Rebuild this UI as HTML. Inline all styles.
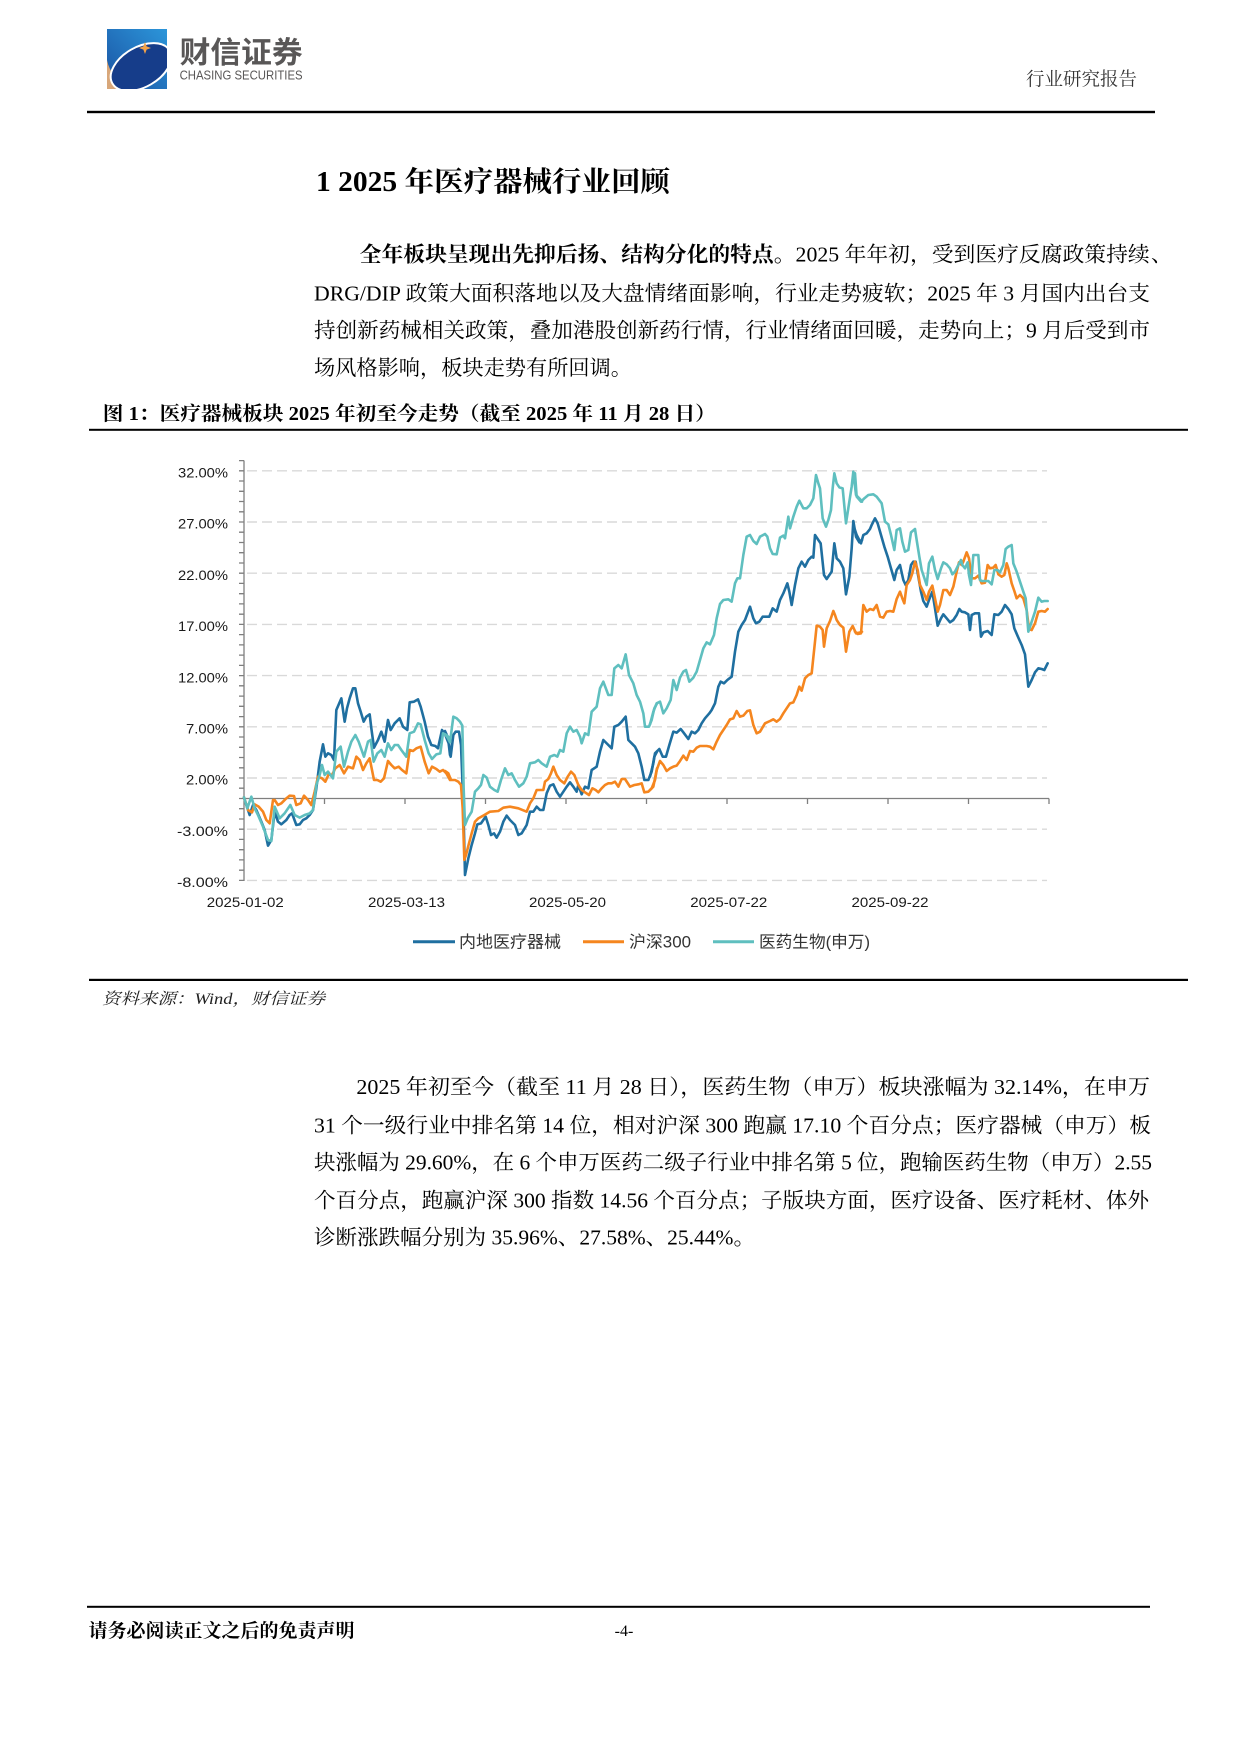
<!DOCTYPE html>
<html>
<head>
<meta charset="utf-8">
<style>
html,body{margin:0;padding:0;background:#fff;}
body{width:1239px;height:1753px;overflow:hidden;}
svg{display:block;}
.serif{font-family:"Liberation Serif","Noto Serif CJK SC",serif;}
.sans{font-family:"Liberation Sans","Noto Sans CJK SC",sans-serif;}
</style>
</head>
<body>
<svg width="1239" height="1753" viewBox="0 0 1239 1753" xmlns="http://www.w3.org/2000/svg">
<defs>
  <linearGradient id="lg" x1="1" y1="0" x2="0" y2="1">
    <stop offset="0" stop-color="#2c96da"/>
    <stop offset="1" stop-color="#1a52a2"/>
  </linearGradient>
  <clipPath id="lc"><rect x="107" y="29" width="60" height="60"/></clipPath>
</defs>

<!-- Logo -->
<rect x="107" y="29" width="60" height="60" fill="url(#lg)"/>
<g clip-path="url(#lc)">
  <path d="M107,60 Q111,80 133,89 L107,89 Z" fill="#d8a77a"/>
  <ellipse cx="141" cy="67" rx="33" ry="20" transform="rotate(-30 141 67)" fill="#163d8a" stroke="#ffffff" stroke-width="2"/>
</g>
<path d="M145,42 L146.6,46.4 L151,48 L146.6,49.6 L145,54 L143.4,49.6 L139,48 L143.4,46.4 Z" fill="#f2a248"/>
<text x="179.6" y="63" class="sans" font-size="30" font-weight="bold" fill="#595757" textLength="123" lengthAdjust="spacingAndGlyphs">财信证券</text>
<text x="179.6" y="79.3" class="sans" font-size="12.5" fill="#595757" textLength="123" lengthAdjust="spacingAndGlyphs">CHASING SECURITIES</text>

<text x="1026" y="85.5" class="serif" font-size="18.5" fill="#333" textLength="111" lengthAdjust="spacingAndGlyphs">行业研究报告</text>
<rect x="87" y="110.8" width="1068" height="2.4" fill="#000"/>

<!-- Title -->
<text x="316" y="191" class="serif" font-size="28" font-weight="bold" fill="#000" textLength="354" lengthAdjust="spacingAndGlyphs">1 2025 年医疗器械行业回顾</text>

<!-- Paragraph 1 -->
<g class="serif" font-size="21" fill="#000">
  <text x="359.7" y="261.5" textLength="790" lengthAdjust="spacingAndGlyphs"><tspan font-weight="bold">全年板块呈现出先抑后扬、结构分化的特点。</tspan>2025 年年初，受到医疗反腐政策持续</text>
  <text x="1151" y="261.5">、</text>
  <text x="314" y="300.7" textLength="836" lengthAdjust="spacingAndGlyphs">DRG/DIP 政策大面积落地以及大盘情绪面影响，行业走势疲软；2025 年 3 月国内出台支</text>
  <text x="314" y="337.5" textLength="836" lengthAdjust="spacingAndGlyphs">持创新药械相关政策，叠加港股创新药行情，行业情绪面回暖，走势向上；9 月后受到市</text>
  <text x="314" y="375" textLength="318" lengthAdjust="spacingAndGlyphs">场风格影响，板块走势有所回调。</text>
</g>

<!-- Caption -->
<text x="102.8" y="420" class="serif" font-size="19.5" font-weight="bold" fill="#000" textLength="613" lengthAdjust="spacingAndGlyphs">图 1：医疗器械板块 2025 年初至今走势（截至 2025 年 11 月 28 日）</text>
<rect x="89" y="428.8" width="1099" height="2" fill="#000"/>

<!-- Chart grid -->
<g stroke="#d9d9d9" stroke-width="1.4" stroke-dasharray="10 5">
  <line x1="247" y1="470.8" x2="1047" y2="470.8"/>
  <line x1="247" y1="522" x2="1047" y2="522"/>
  <line x1="247" y1="573.2" x2="1047" y2="573.2"/>
  <line x1="247" y1="624.4" x2="1047" y2="624.4"/>
  <line x1="247" y1="675.6" x2="1047" y2="675.6"/>
  <line x1="247" y1="726.8" x2="1047" y2="726.8"/>
  <line x1="247" y1="778" x2="1047" y2="778"/>
  <line x1="247" y1="829.2" x2="1047" y2="829.2"/>
  <line x1="247" y1="880.4" x2="1047" y2="880.4"/>
</g>

<!-- Y axis -->
<g stroke="#7f7f7f" stroke-width="1.3" fill="none">
  <line x1="244" y1="460.5" x2="244" y2="881"/>
  <path d="M239,460.6H244M239,470.8H244M239,481H244M239,491.3H244M239,501.5H244M239,511.8H244M239,522H244M239,532.2H244M239,542.5H244M239,552.7H244M239,563H244M239,573.2H244M239,583.4H244M239,593.7H244M239,603.9H244M239,614.2H244M239,624.4H244M239,634.6H244M239,644.9H244M239,655.1H244M239,665.4H244M239,675.6H244M239,685.8H244M239,696.1H244M239,706.3H244M239,716.6H244M239,726.8H244M239,737H244M239,747.3H244M239,757.5H244M239,767.8H244M239,778H244M239,788.2H244M239,798.5H244M239,808.7H244M239,819H244M239,829.2H244M239,839.4H244M239,849.7H244M239,859.9H244M239,870.2H244M239,880.4H244"/>
  <line x1="244" y1="798.5" x2="1049" y2="798.5"/>
  <path d="M324.5,798.5V804M405,798.5V804M485.5,798.5V804M566,798.5V804M646.5,798.5V804M727,798.5V804M807.5,798.5V804M888,798.5V804M968.5,798.5V804M1049,798.5V804"/>
</g>

<!-- Y labels -->
<g class="sans" font-size="13.5" fill="#1a1a1a" text-anchor="end">
  <text x="228" y="477.5" textLength="50" lengthAdjust="spacingAndGlyphs">32.00%</text>
  <text x="228" y="528.7" textLength="50" lengthAdjust="spacingAndGlyphs">27.00%</text>
  <text x="228" y="579.9" textLength="50" lengthAdjust="spacingAndGlyphs">22.00%</text>
  <text x="228" y="631.1" textLength="50" lengthAdjust="spacingAndGlyphs">17.00%</text>
  <text x="228" y="682.3" textLength="50" lengthAdjust="spacingAndGlyphs">12.00%</text>
  <text x="228" y="733.5" textLength="42" lengthAdjust="spacingAndGlyphs">7.00%</text>
  <text x="228" y="784.7" textLength="42" lengthAdjust="spacingAndGlyphs">2.00%</text>
  <text x="228" y="835.9" textLength="51" lengthAdjust="spacingAndGlyphs">-3.00%</text>
  <text x="228" y="887.1" textLength="51" lengthAdjust="spacingAndGlyphs">-8.00%</text>
</g>

<!-- X labels -->
<g class="sans" font-size="14" fill="#1a1a1a">
  <text x="206.8" y="907" textLength="77" lengthAdjust="spacingAndGlyphs">2025-01-02</text>
  <text x="368" y="907" textLength="77" lengthAdjust="spacingAndGlyphs">2025-03-13</text>
  <text x="529" y="907" textLength="77" lengthAdjust="spacingAndGlyphs">2025-05-20</text>
  <text x="690.3" y="907" textLength="77" lengthAdjust="spacingAndGlyphs">2025-07-22</text>
  <text x="851.5" y="907" textLength="77" lengthAdjust="spacingAndGlyphs">2025-09-22</text>
</g>

<!-- Series: blue (bottom) -->
<g fill="none" stroke="#1f6fa0" stroke-width="2.6" stroke-linejoin="round" stroke-linecap="round">
  <polyline vector-effect="non-scaling-stroke" transform="translate(238,455) scale(0.33333)" points="18,1027 25,1050 35,1080 45,1050 55,1065 70,1100 80,1125 90,1172 100,1155 110,1070 120,1100 130,1108 145,1095 155,1080 162,1075 175,1110 185,1108 195,1095 205,1090 215,1080 225,1065 235,1000 245,920 255,868 262,905 270,895 280,900 288,915 295,765 310,730 320,800 327,760 335,730 345,700 352,700 360,745 368,770 377,800 385,785 395,778 400,820 408,878 420,855 430,830 440,860 450,795 458,825 470,805 485,790 495,815 508,825 515,742 528,740 540,733 548,755 560,800 570,845 580,870 592,873 600,880 612,825 622,840 632,865 636,900"/>
  <polyline vector-effect="non-scaling-stroke" transform="translate(445,455) scale(0.33333)" points="0,828 10,850 17,905 25,840 32,830 42,830 48,870 55,1050 60,1260 70,1210 80,1170 90,1135 97,1108 108,1105 122,1085 130,1110 138,1140 147,1135 155,1148 165,1130 175,1100 185,1082 195,1095 210,1110 220,1140 230,1135 245,1110 255,1070 265,1070 275,1055 285,1065 295,1065 305,1015 315,992 325,988 335,1010 345,1025 355,1010 365,995 375,982 385,995 395,1010 400,990 410,1018 420,995 430,1000 440,945 455,935 465,890 475,855 490,870 500,880 508,815 520,810 530,800 542,785 550,855 560,865 570,875 580,895 590,935 598,975 610,975 620,950 628,905 636,890"/>
  <polyline vector-effect="non-scaling-stroke" transform="translate(650,455) scale(0.33333)" points="0,965 10,925 15,895 28,882 38,905 48,905 58,870 70,830 80,833 92,822 100,832 115,852 125,830 135,835 145,825 155,805 165,790 178,775 185,765 195,745 205,695 212,680 222,685 232,675 245,665 255,590 265,530 275,510 285,495 300,455 310,490 318,505 328,500 338,485 350,485 358,485 368,460 380,470 390,435 400,415 412,385 418,410 425,450 435,390 445,340 455,320 465,335 475,315 485,305 490,308 495,240 505,255 512,265 522,360 530,372 545,350 553,265 560,310 570,320 580,340 588,418 598,365 605,280 610,198 618,245 628,262 636,255"/>
  <polyline vector-effect="non-scaling-stroke" transform="translate(855,455) scale(0.33333)" points="0,225 5,240 18,265 25,240 35,235 45,222 50,210 60,190 68,205 78,240 88,275 98,305 108,340 118,375 125,345 135,330 145,375 152,390 160,375 168,330 175,320 182,320 190,365 198,410 205,438 215,455 222,435 232,410 240,460 248,512 258,490 265,478 275,490 285,502 295,495 305,480 313,462 320,470 330,472 340,478 345,525 350,480 360,475 372,475 378,545 385,532 398,528 410,540 418,478 430,480 440,470 450,450 460,462 470,478 478,520 490,548 500,570 510,598 520,695 530,675 540,652 550,640 560,642 568,645 578,625"/>
</g>

<!-- Series: orange (middle) -->
<g fill="none" stroke="#f5861f" stroke-width="2.6" stroke-linejoin="round" stroke-linecap="round">
  <polyline vector-effect="non-scaling-stroke" transform="translate(238,455) scale(0.33333)" points="18,1027 30,1065 42,1072 50,1048 62,1055 75,1070 85,1095 95,1105 105,1035 110,1035 120,1050 130,1045 145,1030 155,1022 168,1023 175,1050 188,1045 198,1022 210,1035 220,1050 230,1010 240,965 252,970 262,980 272,958 282,960 292,940 305,930 318,955 330,935 345,940 355,905 365,915 375,945 385,925 395,910 408,975 418,975 428,980 438,970 450,918 460,930 470,940 482,935 492,945 505,955 515,885 525,888 535,880 548,875 560,920 572,955 582,935 595,942 605,950 615,945 625,955 636,975"/>
  <polyline vector-effect="non-scaling-stroke" transform="translate(445,455) scale(0.33333)" points="0,948 10,955 18,975 30,975 40,980 48,990 53,1060 58,1215 63,1200 72,1165 80,1135 90,1100 100,1090 118,1080 135,1070 160,1068 175,1058 195,1055 220,1060 245,1070 255,1045 265,1030 275,1005 285,1005 295,1005 300,980 310,972 318,955 325,935 335,960 345,975 358,985 368,965 378,950 388,960 400,990 410,1005 420,1012 432,1020 442,1000 452,1005 460,1012 470,1000 480,990 490,985 500,985 510,980 520,995 530,972 540,972 555,995 568,990 580,988 590,985 598,1012 610,1010 620,1000 630,975 636,940"/>
  <polyline vector-effect="non-scaling-stroke" transform="translate(650,455) scale(0.33333)" points="0,1005 10,995 20,945 30,918 40,930 50,948 60,940 70,935 80,932 90,918 100,902 110,915 120,888 130,890 140,878 150,873 160,873 170,873 180,875 190,883 200,860 210,840 220,825 230,810 240,793 250,790 260,768 270,785 280,782 292,768 300,766 310,810 320,835 330,830 345,805 360,798 370,793 380,800 390,792 400,775 410,760 420,745 430,742 440,720 448,695 455,707 465,670 475,660 485,655 495,560 500,512 510,515 518,525 522,575 530,520 540,498 550,468 555,480 560,495 570,510 580,518 588,590 598,530 608,513 618,535 628,533 636,530"/>
  <polyline vector-effect="non-scaling-stroke" transform="translate(855,455) scale(0.33333)" points="0,530 8,537 18,535 25,450 35,470 45,462 55,465 65,450 75,485 85,488 95,470 105,468 115,470 125,432 135,410 142,430 148,445 155,390 165,375 172,355 180,320 188,345 195,390 205,410 215,435 222,410 232,392 240,430 248,470 255,450 265,405 275,405 285,420 295,395 305,350 312,322 320,330 325,320 335,292 342,310 350,370 360,370 370,362 380,385 390,383 398,330 405,340 415,338 422,330 430,358 440,365 448,360 455,325 460,340 470,385 478,408 485,430 495,420 505,430 515,465 522,522 530,525 540,505 550,470 560,468 570,470 578,462"/>
</g>

<!-- Series: teal (top) -->
<g fill="none" stroke="#5fbfbf" stroke-width="2.6" stroke-linejoin="round" stroke-linecap="round">
  <polyline vector-effect="non-scaling-stroke" transform="translate(238,455) scale(0.33333)" points="18,1027 28,1060 40,1025 50,1060 60,1080 75,1115 90,1155 100,1158 110,1055 125,1090 140,1075 157,1050 170,1080 185,1088 200,1080 215,1075 225,1065 235,990 245,960 252,930 260,960 270,950 285,970 295,890 308,875 318,935 330,890 340,860 352,840 362,860 378,905 390,860 398,855 407,920 418,895 430,885 440,905 450,865 460,885 470,870 480,870 490,885 505,905 515,835 528,830 540,805 548,808 560,855 572,895 582,912 595,898 607,895 615,835 625,840 636,850"/>
  <polyline vector-effect="non-scaling-stroke" transform="translate(445,455) scale(0.33333)" points="0,838 8,848 15,862 25,785 35,790 45,800 52,812 56,1000 60,1110 68,1090 80,1070 90,1010 100,1000 108,990 115,960 125,968 135,995 148,1005 158,1010 168,975 180,940 190,960 200,955 210,975 222,995 235,985 245,965 255,925 270,922 280,915 290,925 305,935 315,905 328,900 337,905 345,885 355,890 365,835 375,815 385,830 395,825 405,845 410,865 420,835 430,840 440,770 455,755 465,700 475,680 490,720 500,720 508,640 520,630 530,640 542,598 552,660 565,685 575,720 585,740 595,775 600,815 612,815 620,795 628,760 636,745"/>
  <polyline vector-effect="non-scaling-stroke" transform="translate(650,455) scale(0.33333)" points="0,808 10,770 20,745 30,740 40,775 50,760 62,735 70,675 80,705 90,668 100,650 108,645 118,680 130,668 140,650 150,615 160,580 170,562 180,568 192,540 200,490 210,447 220,435 235,433 245,440 255,385 262,370 270,370 280,300 290,245 300,240 310,258 320,267 330,245 345,237 352,245 360,280 368,297 380,298 390,248 400,242 405,250 415,185 420,220 430,185 440,155 448,137 460,160 470,160 480,150 490,130 498,60 505,85 510,100 518,190 528,215 535,195 543,165 548,100 553,55 560,85 568,97 578,100 588,205 598,140 605,95 610,50 618,120 630,132 636,140"/>
  <polyline vector-effect="non-scaling-stroke" transform="translate(855,455) scale(0.33333)" points="0,55 5,125 18,140 28,130 40,120 55,118 65,125 80,145 90,200 100,208 108,240 118,285 125,225 135,220 142,260 150,290 160,285 168,232 180,222 185,255 193,305 200,345 210,375 215,390 222,325 232,305 240,345 248,372 258,340 265,322 275,328 285,340 292,358 300,350 310,330 318,315 322,330 330,340 338,322 342,360 348,390 355,300 370,300 375,375 380,378 390,378 400,378 410,388 418,345 428,345 435,352 445,330 452,282 460,275 470,270 475,325 485,350 495,380 505,410 512,430 520,530 530,500 540,470 550,428 560,440 568,438 578,438"/>
</g>

<!-- Legend -->
<g stroke-width="3">
  <line x1="413" y1="941.7" x2="455" y2="941.7" stroke="#1f6fa0"/>
  <line x1="583" y1="941.7" x2="624" y2="941.7" stroke="#f5861f"/>
  <line x1="713" y1="941.7" x2="754" y2="941.7" stroke="#5fbfbf"/>
</g>
<g class="sans" font-size="16.5" fill="#333">
  <text x="459" y="947.5" textLength="102" lengthAdjust="spacingAndGlyphs">内地医疗器械</text>
  <text x="629" y="947.5" textLength="62" lengthAdjust="spacingAndGlyphs">沪深300</text>
  <text x="759" y="947.5" textLength="111" lengthAdjust="spacingAndGlyphs">医药生物(申万)</text>
</g>

<rect x="89" y="978.8" width="1099" height="2.2" fill="#000"/>
<text x="102" y="1004" class="serif" font-size="16" font-style="italic" fill="#222" textLength="223" lengthAdjust="spacingAndGlyphs">资料来源：Wind，财信证券</text>

<!-- Paragraph 2 -->
<g class="serif" font-size="21" fill="#000">
  <text x="356.4" y="1094" textLength="793.6" lengthAdjust="spacingAndGlyphs">2025 年初至今（截至 11 月 28 日），医药生物（申万）板块涨幅为 32.14%，在申万</text>
  <text x="314" y="1132.3" textLength="837" lengthAdjust="spacingAndGlyphs">31 个一级行业中排名第 14 位，相对沪深 300 跑赢 17.10 个百分点；医疗器械（申万）板</text>
  <text x="314" y="1169.7" textLength="838" lengthAdjust="spacingAndGlyphs">块涨幅为 29.60%，在 6 个申万医药二级子行业中排名第 5 位，跑输医药生物（申万）2.55</text>
  <text x="314" y="1207.3" textLength="835" lengthAdjust="spacingAndGlyphs">个百分点，跑赢沪深 300 指数 14.56 个百分点；子版块方面，医疗设备、医疗耗材、体外</text>
  <text x="314" y="1244.7" textLength="441" lengthAdjust="spacingAndGlyphs">诊断涨跌幅分别为 35.96%、27.58%、25.44%。</text>
</g>

<!-- Footer -->
<rect x="87" y="1605.8" width="1063" height="2" fill="#000"/>
<text x="88.5" y="1637" class="serif" font-size="19" font-weight="bold" fill="#000" textLength="266" lengthAdjust="spacingAndGlyphs">请务必阅读正文之后的免责声明</text>
<text x="624" y="1636" class="serif" font-size="16" fill="#000" text-anchor="middle">-4-</text>
</svg>
</body>
</html>
